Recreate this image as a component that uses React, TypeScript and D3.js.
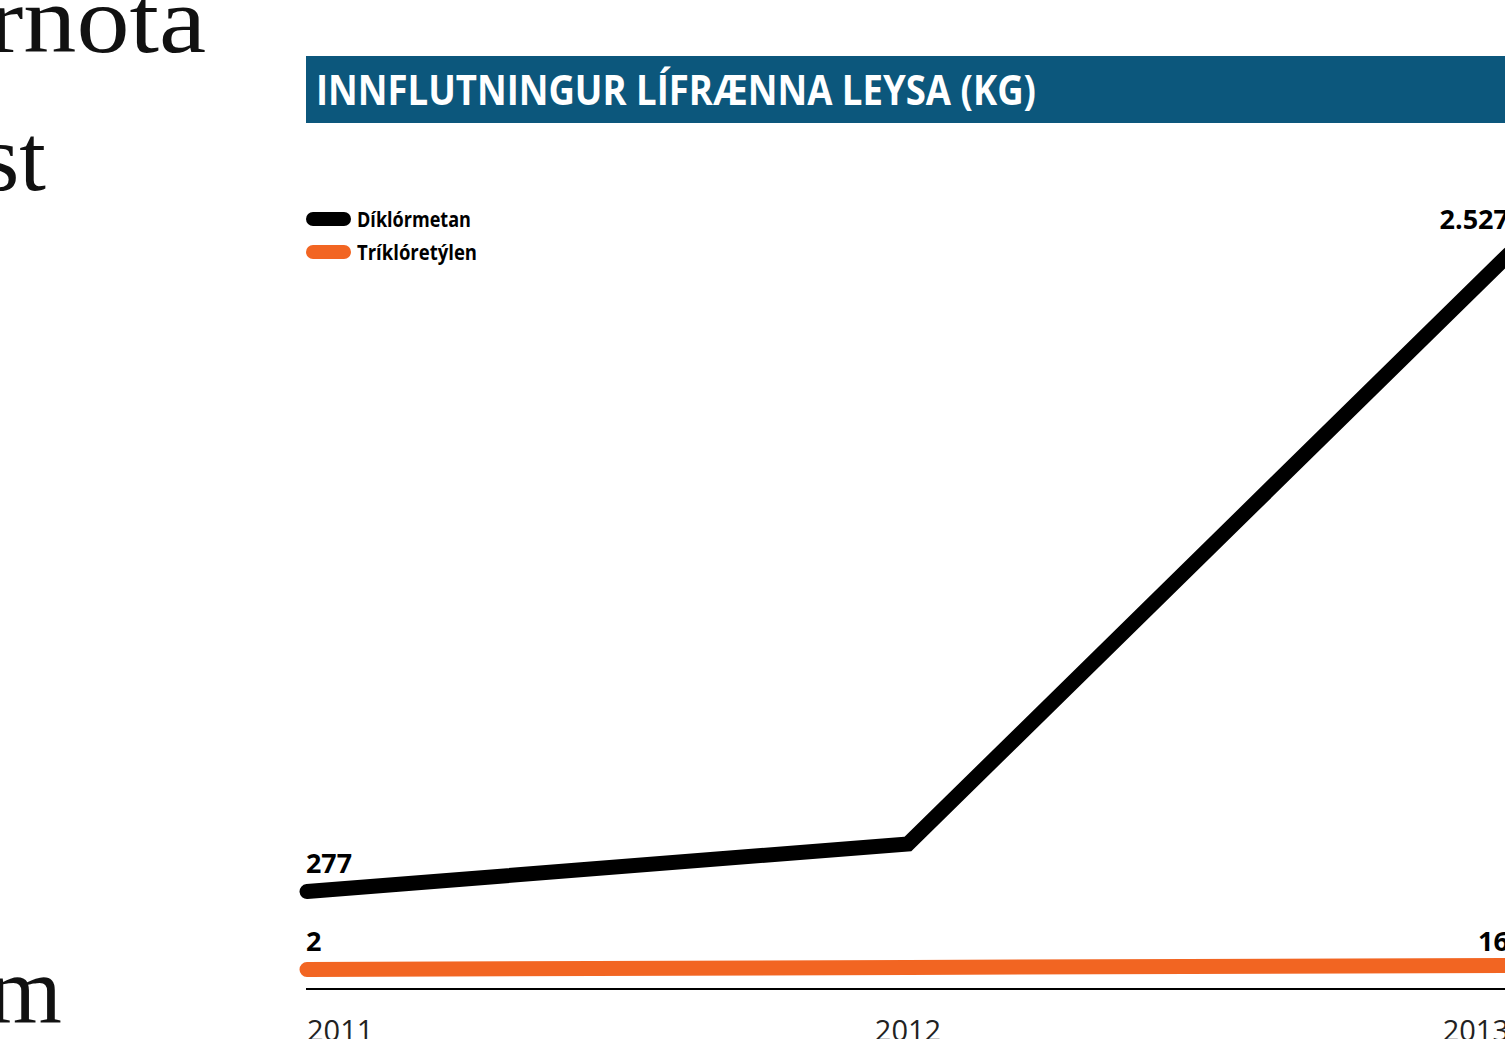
import React from "react";
import * as d3 from "d3";

const years = [2011, 2012, 2013];
const diklormetan = [277, 445, 2527];
const trikloretylen = [2, 9, 16];
const seriesNames = ["Díklórmetan", "Tríklóretýlen"];
const seriesColors = ["#000000", "#f26522"];
const title = "INNFLUTNINGUR LÍFRÆNNA LEYSA (KG)";
const fmt = (v: number) => d3.format(",")(v).replace(/,/g, ".");

export default function App() {
  const W = 1505, H = 1039;
  const x = d3.scaleLinear().domain([2011, 2013]).range([307, 1509]);
  const y = d3.scaleLinear().domain([0, 2527]).range([970, 254]);
  const line = d3.line<[number, number]>().x(d => x(d[0])).y(d => y(d[1]));
  const series = [diklormetan, trikloretylen];
  const cond = "'Open Sans', 'Liberation Sans', sans-serif";
  return (
    <div style={{ position: "absolute", left: 0, top: 0, width: W, height: H, overflow: "hidden", background: "#fff" }}>
      <svg width={W} height={H} style={{ display: "block" }}>
        {/* article text fragments */}
        <g fontFamily="'Liberation Serif', serif" fontSize={95} fill="#111">
          <text x={-12} y={52} textLength={218} lengthAdjust="spacingAndGlyphs">rnota</text>
          <text x={-18} y={190} textLength={64} lengthAdjust="spacingAndGlyphs">st</text>
          <text x={-12} y={1022}>m</text>
        </g>
        {/* title bar */}
        <rect x={306} y={56} width={W - 306} height={67} fill="#0c577c" />
        <text x={316} y={105} fill="#fff" fontFamily={cond} fontWeight={700} fontSize={42}
          textLength={720} lengthAdjust="spacingAndGlyphs">{title}</text>
        {/* legend */}
        {seriesNames.map((n, i) => (
          <g key={n}>
            <line x1={313} x2={344} y1={219 + i * 33} y2={219 + i * 33} stroke={seriesColors[i]} strokeWidth={14} strokeLinecap="round" />
            <text x={357} y={227 + i * 33} fontFamily={cond} fontWeight={700} fontSize={21} fill="#000"
              textLength={i === 0 ? 114 : 120} lengthAdjust="spacingAndGlyphs">{n}</text>
          </g>
        ))}
        {/* axis baseline */}
        <line x1={306} x2={W} y1={989} y2={989} stroke="#000" strokeWidth={2} />
        {/* lines */}
        {series.map((s, i) => (
          <path key={i} d={line(years.map((yr, j) => [yr, s[j]]) as [number, number][]) || ""}
            fill="none" stroke={seriesColors[i]} strokeWidth={15} strokeLinecap="round" strokeLinejoin="miter" />
        ))}
        {/* value labels */}
        <g fontFamily={cond} fontWeight={700} fontSize={27} fill="#000">
          <text x={306} y={y(diklormetan[0]) - 19} textLength={46} lengthAdjust="spacingAndGlyphs">{fmt(diklormetan[0])}</text>
          <text x={306} y={951}>{fmt(trikloretylen[0])}</text>
          <text x={x(2013)} y={229} textAnchor="end">{fmt(diklormetan[2])}</text>
          <text x={x(2013)} y={951} textAnchor="end">{fmt(trikloretylen[2])}</text>
        </g>
        {/* year ticks */}
        <g fontFamily={cond} fontWeight={400} fontSize={29} fill="#222">
          {years.map((yr, i) => (
            <text key={yr} x={x(yr)} y={1041} textAnchor={i === 0 ? "start" : i === 1 ? "middle" : "end"}>{yr}</text>
          ))}
        </g>
      </svg>
    </div>
  );
}
